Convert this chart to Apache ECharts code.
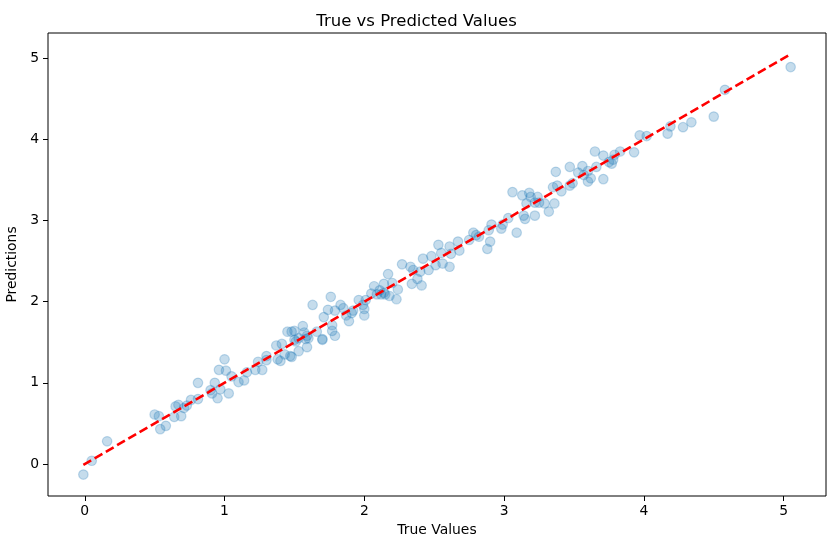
<!DOCTYPE html>
<html>
<head>
<meta charset="utf-8">
<script src="https://cdn.jsdelivr.net/npm/echarts@6/dist/echarts.min.js"></script>
<style>
  html, body { margin: 0; padding: 0; background: #fff; }
  #chart { width: 833px; height: 547px; }
</style>
</head>
<body>
<div id="chart"></div>
<script>
// 真实值（横轴）
const trueVals = [
  -0.01, 0.05, 0.16, 0.50, 0.53, 0.54, 0.58, 0.64, 0.65, 0.67, 0.69, 0.71, 0.73, 0.76, 0.81, 0.81,
  0.90, 0.91, 0.93, 0.95, 0.96, 0.97, 1.00, 1.01, 1.03, 1.05, 1.10, 1.14, 1.16, 1.22, 1.24, 1.27,
  1.30, 1.30, 1.37, 1.38, 1.40, 1.41, 1.43, 1.45, 1.47, 1.48, 1.48, 1.50, 1.50, 1.51, 1.53, 1.53,
  1.56, 1.57, 1.58, 1.59, 1.59, 1.60, 1.63, 1.66, 1.70, 1.70, 1.71, 1.74, 1.76, 1.77, 1.77, 1.79,
  1.79, 1.83, 1.85, 1.87, 1.89, 1.91, 1.92, 1.96, 1.99, 2.00, 2.00, 2.01, 2.05, 2.07, 2.09, 2.11,
  2.12, 2.14, 2.14, 2.15, 2.17, 2.18, 2.20, 2.23, 2.24, 2.27, 2.33, 2.34, 2.35, 2.38, 2.40, 2.41,
  2.42, 2.46, 2.48, 2.51, 2.53, 2.55, 2.56, 2.61, 2.61, 2.62, 2.67, 2.68, 2.75, 2.78, 2.80, 2.82,
  2.88, 2.89, 2.90, 2.91, 2.98, 2.99, 3.03, 3.06, 3.09, 3.13, 3.14, 3.15, 3.16, 3.18, 3.19, 3.22,
  3.22, 3.24, 3.25, 3.29, 3.32, 3.35, 3.36, 3.37, 3.38, 3.41, 3.47, 3.47, 3.49, 3.53, 3.56, 3.57,
  3.60, 3.60, 3.62, 3.65, 3.66, 3.71, 3.71, 3.75, 3.77, 3.78, 3.79, 3.83, 3.93, 3.97, 4.02, 4.17,
  4.19, 4.28, 4.34, 4.50, 4.58, 5.05
]
// 预测值（纵轴）
const predVals = [
  -0.13, 0.04, 0.28, 0.61, 0.59, 0.43, 0.47, 0.58, 0.71, 0.73, 0.59, 0.69, 0.72, 0.79, 1.00, 0.80,
  0.91, 0.87, 1.00, 0.81, 1.16, 0.92, 1.29, 1.15, 0.87, 1.08, 1.01, 1.03, 1.13, 1.16, 1.26, 1.16,
  1.33, 1.28, 1.46, 1.29, 1.27, 1.48, 1.35, 1.63, 1.33, 1.32, 1.63, 1.53, 1.64, 1.51, 1.39, 1.55,
  1.70, 1.62, 1.54, 1.58, 1.44, 1.55, 1.96, 1.63, 1.53, 1.54, 1.81, 1.90, 2.06, 1.71, 1.64, 1.89,
  1.58, 1.96, 1.92, 1.83, 1.76, 1.86, 1.89, 2.02, 1.96, 1.91, 1.83, 2.02, 2.10, 2.19, 2.09, 2.14,
  2.09, 2.11, 2.22, 2.09, 2.34, 2.07, 2.23, 2.03, 2.15, 2.46, 2.43, 2.22, 2.39, 2.28, 2.37, 2.20,
  2.53, 2.39, 2.56, 2.45, 2.70, 2.60, 2.47, 2.43, 2.68, 2.59, 2.74, 2.63, 2.76, 2.85, 2.82, 2.80,
  2.65, 2.88, 2.74, 2.95, 2.90, 2.95, 3.03, 3.35, 2.85, 3.31, 3.06, 3.02, 3.21, 3.34, 3.29, 3.22,
  3.06, 3.29, 3.22, 3.21, 3.11, 3.41, 3.21, 3.60, 3.43, 3.36, 3.66, 3.43, 3.46, 3.59, 3.67, 3.56,
  3.61, 3.48, 3.52, 3.85, 3.66, 3.80, 3.51, 3.72, 3.70, 3.75, 3.81, 3.85, 3.84, 4.05, 4.04, 4.07,
  4.16, 4.15, 4.21, 4.28, 4.61, 4.89
]
// 对角参考线的两端
const idealLine = [-0.01, 5.05]
const tickVals = [0, 1, 2, 3, 4, 5]

const points = trueVals.map((v, i) => [v, predVals[i]])
const linePts = idealLine.map(v => [v, v])

const font = 'DejaVu Sans'
const myChart = echarts.init(document.getElementById('chart'))

myChart.setOption({
  animation: false,
  title: {
    text: 'True vs Predicted Values',
    left: 'center',
    top: 8,
    textStyle: { fontFamily: font, fontSize: 16.5, fontWeight: 'normal', color: '#000' }
  },
  grid: {
    left: 48,
    right: 7,
    top: 33,
    bottom: 51,
    outerBoundsMode: 'none',
    show: true,
    borderColor: '#000',
    borderWidth: 1
  },
  xAxis: {
    type: 'value',
    min: -0.263,
    max: 5.303,
    name: 'True Values',
    nameLocation: 'middle',
    nameGap: 27,
    nameTextStyle: { fontFamily: font, fontSize: 13.9, color: '#000' },
    axisLine: { show: false, onZero: false },
    axisTick: { show: true, length: 5, customValues: tickVals, lineStyle: { color: '#000' } },
    axisLabel: { customValues: tickVals, fontFamily: font, fontSize: 13.9, color: '#000', margin: 8 },
    splitLine: { show: false }
  },
  yAxis: {
    type: 'value',
    min: -0.394,
    max: 5.31,
    name: 'Predictions',
    nameLocation: 'middle',
    nameGap: 23,
    nameRotate: 90,
    nameTextStyle: { fontFamily: font, fontSize: 13.9, color: '#000' },
    axisLine: { show: false, onZero: false },
    axisTick: { show: true, length: 5, customValues: tickVals, lineStyle: { color: '#000' } },
    axisLabel: { customValues: tickVals, fontFamily: font, fontSize: 13.9, color: '#000', margin: 9 },
    splitLine: { show: false }
  },
  series: [
    {
      type: 'scatter',
      data: points,
      symbolSize: 9.5,
      itemStyle: {
        color: 'rgba(31,119,180,0.32)',
        borderColor: 'rgba(31,119,180,0.32)',
        borderWidth: 1.2
      },
      z: 2
    },
    {
      type: 'line',
      data: linePts,
      symbol: 'none',
      lineStyle: { color: '#ff0000', width: 2.6, type: [9, 4] },
      z: 3
    }
  ]
})
</script>
</body>
</html>
